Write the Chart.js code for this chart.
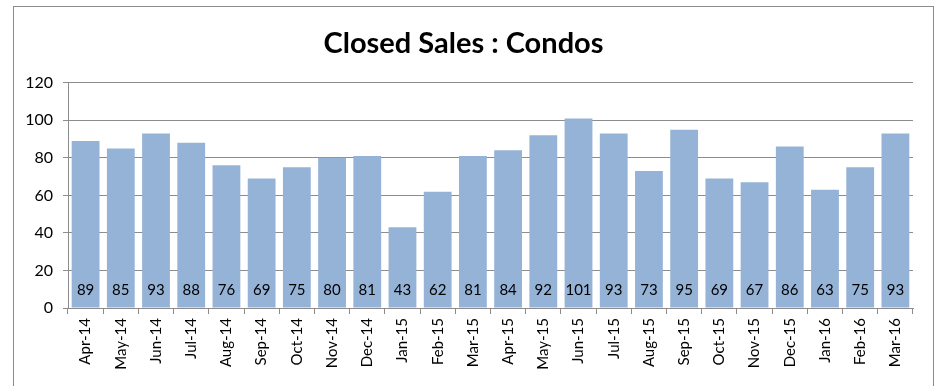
<!DOCTYPE html>
<html>
<head>
<meta charset="utf-8">
<title>Closed Sales : Condos</title>
<script src="https://cdn.jsdelivr.net/npm/chart.js@4"></script>
<style>
  body { margin: 0; background: #fff; }
  #wrap { position: relative; width: 948px; height: 386px; }
  #frame { position: absolute; left: 13px; top: 6px; width: 919px; height: 400px; border: 1px solid #8c8c8c; }
  canvas { position: absolute; left: 0; top: 0; }
</style>
</head>
<body>
<div id="wrap">
  <div id="frame"></div>
  <canvas id="salesChart" width="948" height="386"></canvas>
</div>
<script>
// monthly closed sales for condos
var months = ['Apr-14', 'May-14', 'Jun-14', 'Jul-14', 'Aug-14', 'Sep-14', 'Oct-14', 'Nov-14',
  'Dec-14', 'Jan-15', 'Feb-15', 'Mar-15', 'Apr-15', 'May-15', 'Jun-15', 'Jul-15',
  'Aug-15', 'Sep-15', 'Oct-15', 'Nov-15', 'Dec-15', 'Jan-16', 'Feb-16', 'Mar-16']
var closedSales = [89, 85, 93, 88, 76, 69, 75, 80, 81, 43, 62, 81, 84, 92, 101, 93, 73, 95, 69, 67, 86, 63, 75, 93]
var yMin = 0
var yMax = 120
var yStep = 20

var fontName = 'Lato, "DejaVu Sans", sans-serif'

// writes each value near the bottom of its bar
var barValues = {
  id: 'barValues',
  afterDatasetsDraw: function(chart) {
    var ctx = chart.ctx
    var meta = chart.getDatasetMeta(0)
    var y = chart.scales.y.getPixelForValue(0) - 18
    ctx.save()
    ctx.font = '15px ' + fontName
    ctx.fillStyle = '#000'
    ctx.textAlign = 'center'
    ctx.textBaseline = 'middle'
    meta.data.forEach(function(bar, i) {
      ctx.fillText(closedSales[i], bar.x, y)
    })
    ctx.restore()
  }
}

var ctx = document.getElementById('salesChart')
var salesChart = new Chart(ctx, {
  type: 'bar',
  data: {
    labels: months,
    datasets: [{
      data: closedSales,
      backgroundColor: '#95b3d7',
      barPercentage: 0.79,
      categoryPercentage: 1
    }]
  },
  options: {
    responsive: false,
    animation: false,
    layout: { padding: { left: 14, right: 35, top: 0, bottom: 0 } },
    plugins: {
      legend: { display: false },
      tooltip: { enabled: false },
      title: {
        display: true,
        text: 'Closed Sales : Condos',
        color: '#000',
        font: { family: fontName, size: 29, weight: 'bold' },
        padding: { top: 26, bottom: 22 }
      }
    },
    scales: {
      x: {
        grid: { offset: true, drawOnChartArea: false, drawTicks: true, tickLength: 6, tickColor: '#8c8c8c' },
        border: { color: '#8c8c8c' },
        ticks: { color: '#000', font: { family: fontName, size: 15 }, minRotation: 90, maxRotation: 90, padding: 4, autoSkip: false },
        afterFit: function(scale) { scale.height = 78 }
      },
      y: {
        min: yMin,
        max: yMax,
        grid: { color: '#8c8c8c', tickLength: 5, tickColor: '#8c8c8c' },
        border: { color: '#8c8c8c' },
        ticks: { stepSize: yStep, color: '#000', font: { family: fontName, size: 16 }, padding: 10 },
        afterFit: function(scale) { scale.width = 54 }
      }
    }
  },
  plugins: [barValues]
})
</script>
</body>
</html>
